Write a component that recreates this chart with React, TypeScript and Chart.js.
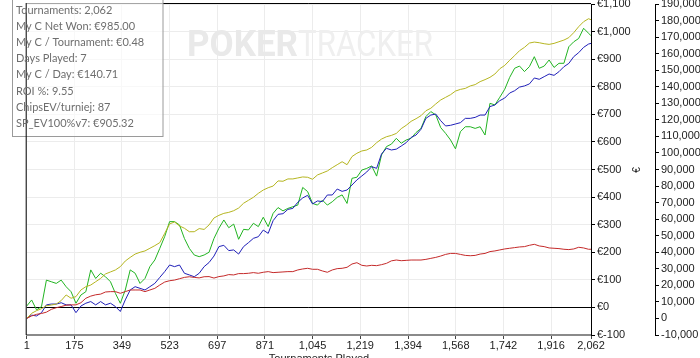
import { useEffect, useRef } from 'react';
import { Chart, registerables } from 'chart.js';

Chart.register(...registerables);

// Tournament numbers sampled along the x axis
const tournaments = [
  1, 19, 37, 55, 73, 91, 109, 127, 145, 163, 181, 199, 217, 235, 253, 271, 289, 307, 325, 343,
  361, 379, 397, 415, 433, 451, 469, 487, 505, 523, 541, 559, 577, 595, 613, 631, 649, 667, 685, 703,
  721, 739, 757, 775, 793, 811, 829, 847, 865, 883, 901, 919, 937, 955, 973, 991, 1009, 1027, 1045, 1063,
  1081, 1099, 1117, 1135, 1153, 1171, 1189, 1207, 1225, 1243, 1261, 1279, 1297, 1315, 1333, 1351, 1369, 1387, 1405, 1423,
  1441, 1459, 1477, 1495, 1513, 1531, 1549, 1567, 1585, 1603, 1621, 1639, 1657, 1675, 1693, 1711, 1729, 1747, 1765, 1783,
  1801, 1819, 1837, 1855, 1873, 1891, 1909, 1927, 1945, 1963, 1981, 1999, 2017, 2035, 2053, 2062,
];

// Net won in euros (green, left/€ axis)
const netWon = [
  5, 27, -9, 3, 99, 93, 87, 99, 75, 57, 15, 45, 57, 136, 105, 124, 111, 93, 51, 15,
  63, 136, 124, 87, 105, 148, 172, 214, 257, 311, 311, 299, 250, 214, 190, 184, 190, 200,
  250, 287, 317, 289, 302, 247, 283, 281, 305, 293, 327, 293, 341, 362, 350, 359, 365, 371, 435, 420,
  377, 371, 389, 371, 383, 399, 408, 377, 468, 472, 498, 504, 513, 476, 553, 583, 592, 613,
  595, 607, 613, 634, 649, 692, 710, 698, 652, 631, 607, 575, 637, 655, 655, 649, 655, 625, 740, 734,
  762, 791, 834, 867, 875, 855, 873, 909, 867, 875, 897, 870, 885, 885, 945, 963, 975, 1012, 994, 985,
];

// Chips EV (olive, chips axis)
const chipsEV = [
  0, 3100, 4700, 5900, 7700, 8100, 8700, 10800, 14200, 12200, 13200, 17200, 19200, 20200, 22200, 24200, 26900, 28100, 29300, 31300,
  34700, 36900, 38900, 40000, 40800, 42400, 44000, 45800, 51400, 57100, 58300, 55900, 54500, 52400, 52400, 54300, 53800, 56500,
  60700, 62300, 63500, 64100, 65100, 66700, 69600, 71400, 73200, 75600, 77600, 79000, 80000, 83100, 82900, 84300, 84300, 84900, 85500, 85300,
  84100, 86700, 87900, 89100, 91100, 92900, 94700, 92900, 97800, 99800, 101200, 101800, 103400, 106200, 108400, 109800, 110600, 111800,
  114700, 116700, 119100, 120700, 122500, 125500, 127000, 129600, 132000, 133600, 135200, 137400, 138400, 139000, 140500, 141300, 143100, 144300, 145700, 147700,
  150900, 152900, 156000, 158800, 161800, 163800, 166400, 167000, 166600, 166000, 165600, 166200, 167200, 168200, 169700, 172700, 176300, 179300, 181100, 180500,
];

// Chips won (blue, chips axis)
const chipsWon = [
  0, 2000, 1500, 3500, 8200, 8700, 8700, 9500, 8200, 8200, 3500, 7500, 9200, 10200, 8200, 10200, 8200, 9200, 7200, 4200,
  11200, 17200, 19200, 18200, 17200, 19200, 21200, 24800, 28300, 32300, 31300, 32300, 27300, 26300, 25200, 27300, 31300, 33800,
  37700, 43400, 44200, 41000, 41400, 38900, 43400, 45800, 48400, 49400, 53400, 51400, 59100, 62900, 63300, 65900, 66500, 70200, 72800, 74400,
  69200, 71000, 70600, 74600, 74600, 78200, 76800, 77600, 80600, 83700, 86100, 88500, 91700, 90700, 99400, 102800, 101800, 102300,
  104200, 106200, 109400, 110800, 114300, 120900, 122900, 123500, 119500, 116300, 116700, 117500, 118300, 120900, 120900, 121500, 122900, 122900, 128000, 129000,
  131600, 133200, 136200, 137600, 139800, 140500, 141700, 145300, 144500, 146100, 147700, 146900, 149100, 152100, 154100, 158200, 160600, 163800, 165800, 166200,
];

// Red series (chips axis)
const chipsRed = [
  0, 1500, 2500, 3000, 3800, 5500, 6500, 7200, 8000, 8200, 8200, 9500, 12200, 13500, 14300, 14700, 16000, 16200, 16200, 15200,
  16200, 17200, 17200, 17200, 16200, 17200, 18200, 20200, 22000, 22800, 23200, 24000, 24800, 25200, 24800, 24500, 25200, 25300,
  24400, 25300, 25700, 26500, 26300, 27100, 27100, 27300, 27700, 27300, 27900, 28300, 27700, 27900, 28100, 28300, 28300, 29300, 29900, 30300,
  29700, 29700, 28700, 27900, 29300, 30100, 30300, 30900, 32900, 33700, 32100, 31700, 32100, 31900, 32500, 33300, 34800, 35300,
  34900, 35100, 35300, 35300, 35300, 35700, 36300, 36900, 37700, 38700, 39300, 39300, 38700, 38100, 37900, 38100, 38900, 39300, 40400, 40800,
  41400, 42000, 42400, 42800, 43200, 43400, 44200, 44800, 43800, 43400, 42600, 42400, 42200, 41800, 41600, 42000, 43000, 42600, 41800, 41800,
];

const xTicks = [1, 175, 349, 523, 697, 871, 1045, 1219, 1394, 1568, 1742, 1916, 2062];
const euroMin = -100;
const euroMax = 1100;
const euroStep = 100;
const chipMin = -10000;
const chipMax = 190000;
const chipStep = 10000;

const infoLines = [
  'Tournaments: 2,062',
  'My C Net Won: €985.00',
  'My C / Tournament: €0.48',
  'Days Played: 7',
  'My C / Day: €140.71',
  'ROI %: 9.55',
  'ChipsEV/turniej: 87',
  'SP_EV100%v7: €905.32',
];

const xTitle = 'Tournaments Played';

const tickFont = { family: '"Liberation Sans", Arial, sans-serif', size: 11 };

export default function App() {
  const ref = useRef<HTMLCanvasElement>(null);

  useEffect(() => {
    document.body.style.margin = '0';
    const canvas = ref.current;
    if (!canvas) return;

    const overlay = {
      id: 'overlay',
      beforeDatasetsDraw(chart: any) {
        const ctx = chart.ctx;
        ctx.save();
        ctx.textBaseline = 'alphabetic';
        ctx.textAlign = 'left';
        ctx.fillStyle = '#e9e9e9';
        ctx.font = 'bold 36px Roboto';
        ctx.fillText('POKER', 187, 56, 111);
        ctx.fillStyle = '#efefef';
        ctx.font = '36px Roboto';
        ctx.fillText('TRACKER', 298, 56, 135);
        ctx.restore();
      },
      afterDraw(chart: any) {
        const ctx = chart.ctx;
        const a = chart.chartArea;
        ctx.save();
        // top border
        ctx.strokeStyle = '#000';
        ctx.lineWidth = 1;
        ctx.beginPath();
        ctx.moveTo(a.left, a.top - 0.5);
        ctx.lineTo(a.right, a.top - 0.5);
        ctx.stroke();
        // info box
        ctx.fillStyle = 'rgba(255,255,255,0.65)';
        ctx.fillRect(12.5, -2, 150.5, 138.5);
        ctx.strokeStyle = '#9a9a9a';
        ctx.strokeRect(12.5, -2, 150.5, 138.5);
        // left border
        ctx.strokeStyle = '#000';
        ctx.beginPath();
        ctx.moveTo(a.left - 0.5, a.top - 1);
        ctx.lineTo(a.left - 0.5, a.bottom);
        ctx.stroke();
        // info text
        ctx.fillStyle = '#6e6e6e';
        ctx.font = '11px Lato';
        ctx.textBaseline = 'middle';
        ctx.textAlign = 'left';
        infoLines.forEach((t, i) => ctx.fillText(t, 16, 10 + i * 16.2));
        // rotated euro axis title
        ctx.save();
        ctx.translate(637, 170);
        ctx.rotate(-Math.PI / 2);
        ctx.fillStyle = '#222';
        ctx.font = '10px "Liberation Sans", Arial';
        ctx.textAlign = 'center';
        ctx.textBaseline = 'middle';
        ctx.fillText('€', 0, 0);
        ctx.restore();
        // x axis title
        ctx.fillStyle = '#222';
        ctx.font = '11px "Liberation Sans", Arial';
        ctx.textAlign = 'center';
        ctx.textBaseline = 'top';
        ctx.fillText(xTitle, 319, 353);
        ctx.restore();
      },
    };

    const mk = (vals: number[]) => tournaments.map((t, i) => ({ x: t, y: vals[i] }));

    const chart = new Chart(canvas, {
      type: 'line',
      data: {
        datasets: [
          { label: 'Red', data: mk(chipsRed), borderColor: '#c42a2a', yAxisID: 'y2' },
          { label: 'ChipsEV', data: mk(chipsEV), borderColor: '#b5b520', yAxisID: 'y2' },
          { label: 'Chips Won', data: mk(chipsWon), borderColor: '#2020b8', yAxisID: 'y2' },
          { label: 'My C Net Won', data: mk(netWon), borderColor: '#22b422', yAxisID: 'y' },
        ],
      },
      options: {
        responsive: false,
        animation: false,
        layout: { padding: { left: 26.7, top: 4, right: 0, bottom: 0 } },
        elements: {
          point: { radius: 0 },
          line: { borderWidth: 1, tension: 0 },
        },
        plugins: { legend: { display: false }, tooltip: { enabled: false } },
        scales: {
          x: {
            type: 'linear',
            min: 1,
            max: 2062,
            afterBuildTicks: (s: any) => {
              s.ticks = xTicks.map((v) => ({ value: v }));
            },
            afterFit: (s: any) => {
              s.height = 23;
              s.paddingLeft = 0;
              s.paddingRight = 0;
            },
            ticks: {
              autoSkip: false,
              maxRotation: 0,
              padding: 0,
              color: '#222',
              font: tickFont,
              callback: (v: any) => Number(v).toLocaleString('en-US'),
            },
            grid: { color: '#ececec', tickColor: '#444', tickLength: 4 },
            border: { color: '#8a8a8a', width: 2 },
          },
          y: {
            position: 'right',
            min: euroMin,
            max: euroMax,
            afterFit: (s: any) => {
              s.width = 64;
              s.paddingTop = 0;
              s.paddingBottom = 0;
            },
            ticks: {
              stepSize: euroStep,
              autoSkip: false,
              padding: 2,
              color: '#222',
              font: tickFont,
              callback: (v: any) => '€' + Number(v).toLocaleString('en-US'),
            },
            grid: {
              color: (c: any) => (c.tick && c.tick.value === 0 ? '#000' : '#ececec'),
              tickColor: '#000',
              tickLength: 4,
            },
            border: { color: '#000', width: 1 },
          },
          y2: {
            position: 'right',
            min: chipMin,
            max: chipMax,
            afterFit: (s: any) => {
              s.width = 45;
              s.paddingTop = 0;
              s.paddingBottom = 0;
            },
            ticks: {
              stepSize: chipStep,
              autoSkip: false,
              maxTicksLimit: 40,
              padding: 2,
              color: '#222',
              font: tickFont,
              callback: (v: any) => Number(v).toLocaleString('en-US'),
            },
            grid: { drawOnChartArea: false, tickColor: '#000', tickLength: 4 },
            border: { color: '#000', width: 1 },
          },
        },
      },
      plugins: [overlay],
    });

    return () => chart.destroy();
  }, []);

  return (
    <div style={{ width: 700, height: 358, position: 'relative', overflow: 'hidden' }}>
      <canvas ref={ref} width={700} height={358} style={{ display: 'block', width: 700, height: 358 }} />
    </div>
  );
}
